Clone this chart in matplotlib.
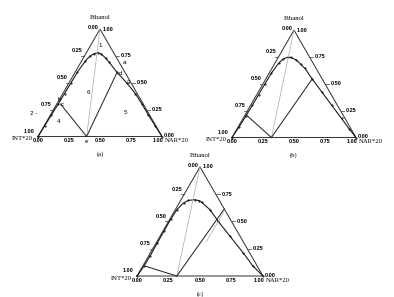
import numpy as np
import matplotlib
matplotlib.use("Agg")
import matplotlib.pyplot as plt

# binodal curves: ethanol and NAR*20 mass fractions (INT*20 = rest)
a_eth = [0.00, 0.10, 0.20, 0.30, 0.40, 0.50, 0.60, 0.70, 0.75, 0.77, 0.78, 0.77, 0.73, 0.69, 0.60, 0.50, 0.40, 0.30, 0.20, 0.10, 0.00]
a_nar = [0.00, 0.004, 0.008, 0.012, 0.014, 0.016, 0.018, 0.03, 0.045, 0.065, 0.09, 0.125, 0.18, 0.23, 0.335, 0.465, 0.585, 0.69, 0.79, 0.895, 1.00]

b_eth = [0.00, 0.10, 0.20, 0.30, 0.40, 0.50, 0.60, 0.69, 0.73, 0.747, 0.745, 0.722, 0.68, 0.644, 0.545, 0.427, 0.302, 0.177, 0.08, 0.00]
b_nar = [0.00, 0.008, 0.012, 0.014, 0.015, 0.016, 0.018, 0.03, 0.045, 0.075, 0.10, 0.159, 0.215, 0.266, 0.374, 0.509, 0.652, 0.795, 0.905, 1.00]

c_eth = [0.00, 0.09, 0.182, 0.30, 0.41, 0.52, 0.608, 0.67, 0.693, 0.699, 0.69, 0.675, 0.608, 0.501, 0.365, 0.213, 0.091, 0.00]
c_nar = [0.00, 0.01, 0.012, 0.01, 0.008, 0.008, 0.012, 0.035, 0.061, 0.11, 0.15, 0.176, 0.275, 0.394, 0.555, 0.736, 0.875, 1.00]

# tie lines as (nar, eth) end points
a_ties = [[(0.392, 0.0), (0.03, 0.303)], [(0.392, 0.0), (0.34, 0.59)]]
a_grey = [[(0.392, 0.0), (0.0, 1.0)]]
b_ties = [[(0.318, 0.0), (0.01, 0.21)], [(0.318, 0.0), (0.374, 0.545)]]
b_grey = [[(0.318, 0.0), (0.0, 1.0)]]
c_ties = [[(0.316, 0.0), (0.02, 0.09)], [(0.316, 0.0), (0.386, 0.614)]]
c_grey = [[(0.316, 0.0), (0.0, 1.0)], [(0.393, 0.319), (0.396, 0.577)]]

# region / point labels of panel (a), (nar, eth)
a_marks = ["1", "2 -", "3", "4", "5", "6", "a", "b", "c", "d", "e"]
a_mark_pos = [(0.08, 0.85), (-0.14, 0.215), (0.48, 0.50), (0.10, 0.14), (0.59, 0.225), (0.20, 0.41),
              (0.355, 0.685), (0.0, 0.34), (0.05, 0.30), (0.367, 0.59), (0.415, -0.05)]

ticks = [0.00, 0.25, 0.50, 0.75, 1.00]
tick_text = ["0.00", "0.25", "0.50", "0.75", "1.00"]

H = np.sqrt(3) / 2
SANS = "Liberation Sans"
SERIF = "Liberation Serif"


def tern(nar, eth):
    nar = np.asarray(nar, float)
    eth = np.asarray(eth, float)
    return nar + eth / 2, eth * H


def draw_panel(ax, eth, nar, ties, grey, letter):
    # frame
    fx, fy = tern([0, 1, 0, 0], [0, 0, 1, 0])
    ax.plot(fx, fy, color="#3a3a3a", lw=0.75)
    # binodal
    x, y = tern(nar, eth)
    ax.plot(x, y, color="#111111", lw=0.75, marker=".", ms=1.0)
    for p, q in grey:
        x, y = tern([p[0], q[0]], [p[1], q[1]])
        ax.plot(x, y, color="#b0b0b0", lw=0.55)
    for p, q in ties:
        x, y = tern([p[0], q[0]], [p[1], q[1]])
        ax.plot(x, y, color="#2a2a2a", lw=0.75)

    kw = dict(fontsize=4, fontweight="bold", family=SANS)
    for v, t in zip(ticks, tick_text):
        # bottom: NAR
        bx, by = tern(v, 0)
        if v < 1:
            ax.text(bx, by - 0.035, t, ha="center", va="center", **kw)
        else:
            ax.text(bx + 0.01, by - 0.035, t, ha="right", va="center", **kw)
        # left: INT
        lx, ly = tern(0, 1 - v)
        if v == 0:
            ax.text(lx - 0.01, ly + 0.01, t, ha="right", va="center", **kw)
        elif v == 1:
            ax.text(lx - 0.03, ly + 0.042, t, ha="right", va="center", **kw)
        else:
            ax.text(lx - 0.015, ly + 0.04, t, ha="right", va="center", **kw)
            ax.plot([lx - 0.025, lx - 0.005], [ly, ly], color="#333333", lw=0.5)
        # right: Ethanol
        rx, ry = tern(1 - v, v)
        if v == 1:
            ax.text(rx + 0.025, ry, t, ha="left", va="center", **kw)
        elif v == 0:
            ax.text(rx + 0.015, ry + 0.005, t, ha="left", va="center", **kw)
        else:
            ax.text(rx + 0.045, ry, t, ha="left", va="center", **kw)
            ax.plot([rx + 0.005, rx + 0.03], [ry, ry], color="#333333", lw=0.5)

    ax.text(0.5, H + 0.09, "Ethanol", ha="center", va="center", fontsize=4.8, family=SERIF)
    ax.text(-0.045, -0.018, "INT*20", ha="right", va="center", fontsize=4.8, family=SERIF)
    ax.text(1.02, -0.035, "NAR*20", ha="left", va="center", fontsize=4.8, family=SERIF)
    ax.text(0.5, -0.14, letter, ha="center", va="center", fontsize=4.8, family=SERIF)

    ax.set_xlim(-0.3, 1.3)
    ax.set_ylim(-0.15, 1.0)
    ax.axis("off")


fig = plt.figure(figsize=(3.94, 2.97), dpi=100)
FW, FH = 394.0, 297.0


def panel_axes(blx, bly, w):
    return fig.add_axes([(blx - 0.3 * w) / FW, (FH - bly - 0.15 * w) / FH, 1.6 * w / FW, 1.15 * w / FH])


ax_a = panel_axes(38, 136.5, 124)
draw_panel(ax_a, a_eth, a_nar, a_ties, a_grey, "(a)")
for t, (n, e) in zip(a_marks, a_mark_pos):
    x, y = tern(n, e)
    ax_a.text(x, y, t, ha="center", va="center", fontsize=4.5, family=SANS)

ax_b = panel_axes(232, 137.5, 124)
draw_panel(ax_b, b_eth, b_nar, b_ties, b_grey, "(b)")

ax_c = panel_axes(137, 276, 126)
draw_panel(ax_c, c_eth, c_nar, c_ties, c_grey, "(c)")

fig.savefig("out.png", dpi=100)
